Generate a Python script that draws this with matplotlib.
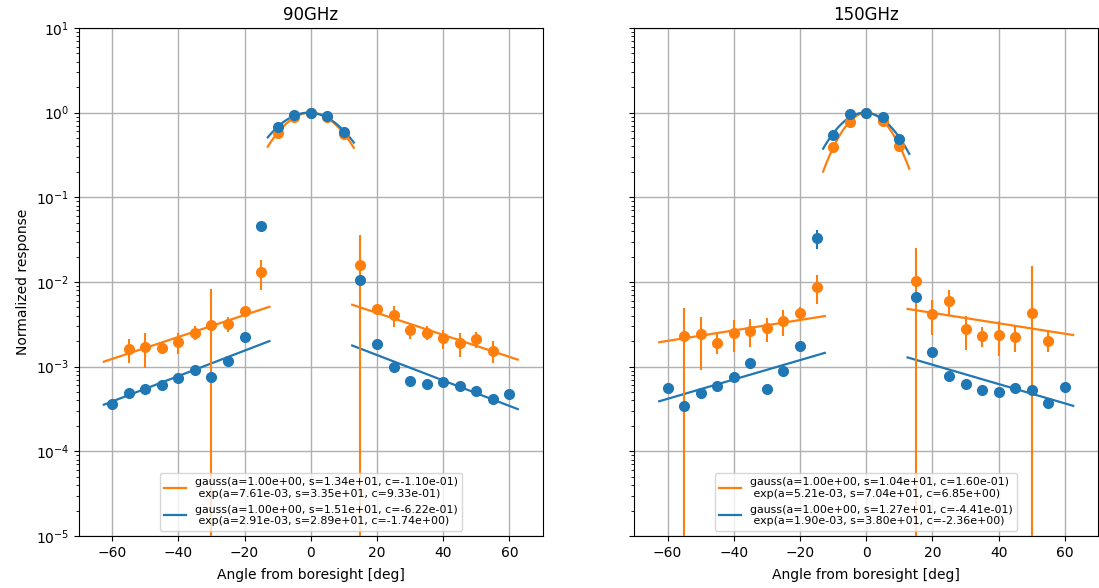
import numpy as np
import matplotlib.pyplot as plt

# angles [deg]
ang_blue = np.arange(-60, 61, 5)
ang_orange = np.arange(-55, 56, 5)

# 90GHz
r90_blue = [3.63e-4, 4.93e-4, 5.45e-4, 6.08e-4, 7.42e-4, 9.06e-4, 7.55e-4, 1.17e-3, 2.24e-3, 4.59e-2,
            0.68, 0.94, 1.0, 0.914, 0.587,
            1.057e-2, 1.85e-3, 9.83e-4, 6.77e-4, 6.19e-4, 6.59e-4, 5.92e-4, 5.16e-4, 4.16e-4, 4.76e-4]
e90_blue = [1e-5, 1.5e-5, 2e-5, 2e-5, 2.5e-5, 3e-5, 4e-5, 5e-5, 1e-4, 3e-3,
            0.02, 0.02, 0.02, 0.02, 0.02,
            4e-4, 1e-4, 5e-5, 4e-5, 4e-5, 4e-5, 3e-5, 3e-5, 2e-5, 2e-5]
r90_orange = [1.60e-3, 1.72e-3, 1.68e-3, 1.97e-3, 2.52e-3, 3.11e-3, 3.19e-3, 4.59e-3, 1.314e-2,
              0.58, 0.897, 1.0, 0.9, 0.556,
              1.575e-2, 4.77e-3, 4.08e-3, 2.71e-3, 2.52e-3, 2.16e-3, 1.89e-3, 2.11e-3, 1.55e-3]
e90_orange = [0.5e-3, 0.75e-3, 0.28e-3, 0.56e-3, 0.48e-3, 5.1e-3, 0.65e-3, 0.3e-3, 5.1e-3,
              0.03, 0.03, 0.03, 0.03, 0.03,
              2.0e-2, 0.55e-3, 1.1e-3, 0.6e-3, 0.48e-3, 0.55e-3, 0.6e-3, 0.47e-3, 0.45e-3]

# 150GHz
r150_blue = [5.65e-4, 3.43e-4, 4.85e-4, 5.92e-4, 7.5e-4, 1.10e-3, 5.41e-4, 8.97e-4, 1.76e-3, 3.28e-2,
             0.545, 0.957, 1.0, 0.897, 0.485,
             6.6e-3, 1.48e-3, 7.83e-4, 6.19e-4, 5.31e-4, 4.99e-4, 5.65e-4, 5.31e-4, 3.70e-4, 5.71e-4]
e150_blue = [2e-5, 5e-5, 7e-5, 8e-5, 5e-5, 6e-5, 7e-5, 1e-4, 1e-4, 8e-3,
             0.03, 0.03, 0.03, 0.03, 0.03,
             4e-4, 2e-4, 6e-5, 4e-5, 3e-5, 3e-5, 3e-5, 3e-5, 2e-5, 2e-5]
r150_orange = [2.31e-3, 2.41e-3, 1.92e-3, 2.52e-3, 2.66e-3, 2.84e-3, 3.49e-3, 4.35e-3, 8.81e-3,
               0.39, 0.77, 1.0, 0.80, 0.40,
               1.037e-2, 4.2e-3, 6.03e-3, 2.77e-3, 2.31e-3, 2.39e-3, 2.26e-3, 4.35e-3, 2.03e-3]
e150_orange = [2.6e-3, 1.5e-3, 0.5e-3, 1.03e-3, 0.95e-3, 0.88e-3, 1.18e-3, 0.7e-3, 3.3e-3,
               0.03, 0.03, 0.03, 0.03, 0.05,
               1.46e-2, 1.85e-3, 2.05e-3, 1.2e-3, 0.6e-3, 1.05e-3, 0.76e-3, 1.11e-2, 0.55e-3]

# fit parameters (a, s, c)
fit90_orange = [(1.00e+00, 1.34e+01, -1.10e-01), (7.61e-03, 3.35e+01, 9.33e-01)]
fit90_blue = [(1.00e+00, 1.51e+01, -6.22e-01), (2.91e-03, 2.89e+01, -1.74e+00)]
fit150_orange = [(1.00e+00, 1.04e+01, 1.60e-01), (5.21e-03, 7.04e+01, 6.85e+00)]
fit150_blue = [(1.00e+00, 1.27e+01, -4.41e-01), (1.90e-03, 3.80e+01, -2.36e+00)]


def gauss(x, a, s, c):
    return a*np.exp(-((x-c)/s)**2)


def expo(x, a, s, c):
    return a*np.exp(-np.abs(x-c)/s)


def label(fit):
    g, e = fit
    return ('gauss(a=%.2e, s=%.2e, c=%.2e)\n exp(a=%.2e, s=%.2e, c=%.2e)' % (g + e))


def draw(ax, ang, r, err, fit, col):
    ax.errorbar(ang, r, yerr=err, fmt='o', color=col, ms=7, elinewidth=1.5, zorder=3)
    xg = np.linspace(-13, 13, 100)
    xl = np.linspace(-62.5, -12.5, 100)
    xr = np.linspace(12.5, 62.5, 100)
    ax.plot(xg, gauss(xg, *fit[0]), color=col, lw=1.6, label=label(fit))
    ax.plot(xl, expo(xl, *fit[1]), color=col, lw=1.6)
    ax.plot(xr, expo(xr, *fit[1]), color=col, lw=1.6)


fig, axs = plt.subplots(1, 2, figsize=(10.99, 5.88), dpi=100, sharey=True)
fig.subplots_adjust(left=79/1099, right=1098/1099, top=1-28/588, bottom=52/588, wspace=0.198)

panels = [("90GHz", r90_orange, e90_orange, fit90_orange, r90_blue, e90_blue, fit90_blue),
          ("150GHz", r150_orange, e150_orange, fit150_orange, r150_blue, e150_blue, fit150_blue)]

for ax, (title, ro, eo, fo, rb, eb, fb) in zip(axs, panels):
    draw(ax, ang_orange, ro, eo, fo, 'C1')
    draw(ax, ang_blue, rb, eb, fb, 'C0')
    ax.set_yscale('log')
    ax.set_ylim(1e-5, 1e1)
    ax.set_xlim(-70, 70)
    ax.grid(True, which='major', color='#b0b0b0', lw=1.0)
    ax.set_axisbelow(True)
    ax.set_title(title)
    ax.set_xlabel('Angle from boresight [deg]', labelpad=6)
    ax.legend(loc='lower center', fontsize=7.9)

axs[0].set_ylabel('Normalized response')

plt.savefig('out.png')
